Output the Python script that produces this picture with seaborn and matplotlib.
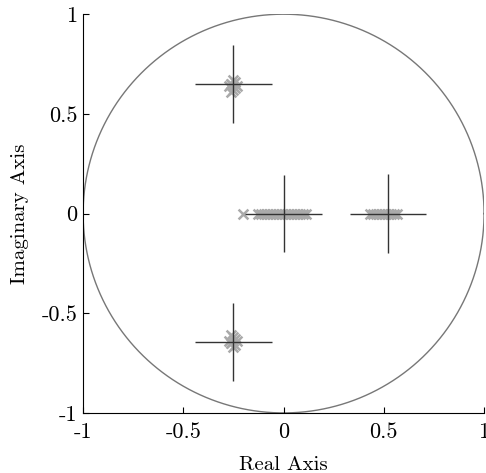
import numpy as np
import pandas as pd
import seaborn as sns
import matplotlib.pyplot as plt

# pole estimates (gray x markers)
pole_re = [-0.27, -0.26, -0.25, -0.24, -0.23, -0.26, -0.25, -0.24, -0.26, -0.25,
           -0.27, -0.26, -0.25, -0.24, -0.23, -0.26, -0.25, -0.24, -0.26, -0.25,
           -0.20, -0.13, -0.115, -0.10, -0.085, -0.07, -0.055, -0.04, -0.025, -0.01,
           0.005, 0.02, 0.035, 0.05, 0.065, 0.08, 0.095, 0.11,
           0.43, 0.445, 0.46, 0.475, 0.49, 0.505, 0.52, 0.535, 0.55, 0.565]
pole_im = [0.64, 0.65, 0.62, 0.66, 0.64, 0.61, 0.67, 0.63, 0.65, 0.64,
           -0.64, -0.65, -0.62, -0.66, -0.64, -0.61, -0.67, -0.63, -0.65, -0.64,
           0, 0, 0, 0, 0, 0, 0, 0, 0, 0,
           0, 0, 0, 0, 0, 0, 0, 0,
           0, 0, 0, 0, 0, 0, 0, 0, 0, 0]

# true poles with spread (crosshairs)
true_re = [-0.25, -0.25, 0.0, 0.52]
true_im = [0.65, -0.645, 0.0, 0.0]
spread_re = [0.19, 0.19, 0.19, 0.19]
spread_im = [0.195, 0.195, 0.195, 0.2]

ticks = [-1, -0.5, 0, 0.5, 1]
tick_labels = ['-1', '-0.5', '0', '0.5', '1']

plt.rcParams['font.family'] = ['cmr10', 'DejaVu Serif']
plt.rcParams['axes.unicode_minus'] = False

fig = plt.figure(figsize=(4.86, 4.73), dpi=100)
ax = fig.add_axes([0.171, 0.127, 0.825, 0.843])

t = np.linspace(0, 2 * np.pi, 400)
ax.plot(np.cos(t), np.sin(t), color='#777777', lw=1.0, zorder=1)

df = pd.DataFrame({'re': pole_re, 'im': pole_im})
sns.scatterplot(data=df, x='re', y='im', marker='x', color='#aaaaaa',
                s=50, linewidth=1.8, ax=ax, zorder=2)

ax.errorbar(true_re, true_im, xerr=spread_re, yerr=spread_im, fmt='none',
            ecolor='#333333', elinewidth=1.0, capsize=0, zorder=3)

ax.set_xlim(-1, 1)
ax.set_ylim(-1, 1)
ax.set_xticks(ticks)
ax.set_yticks(ticks)
ax.set_xticklabels(tick_labels)
ax.set_yticklabels(tick_labels)
ax.tick_params(direction='in', length=4, labelsize=16, width=0.8)
ax.tick_params(axis='x', pad=7)
ax.tick_params(axis='y', pad=4)
ax.spines['top'].set_visible(False)
ax.spines['right'].set_visible(False)
ax.set_xlabel('Real Axis', fontsize=15, labelpad=10)
ax.set_ylabel('Imaginary Axis', fontsize=15, labelpad=9)

fig.savefig('out.png', dpi=100)
